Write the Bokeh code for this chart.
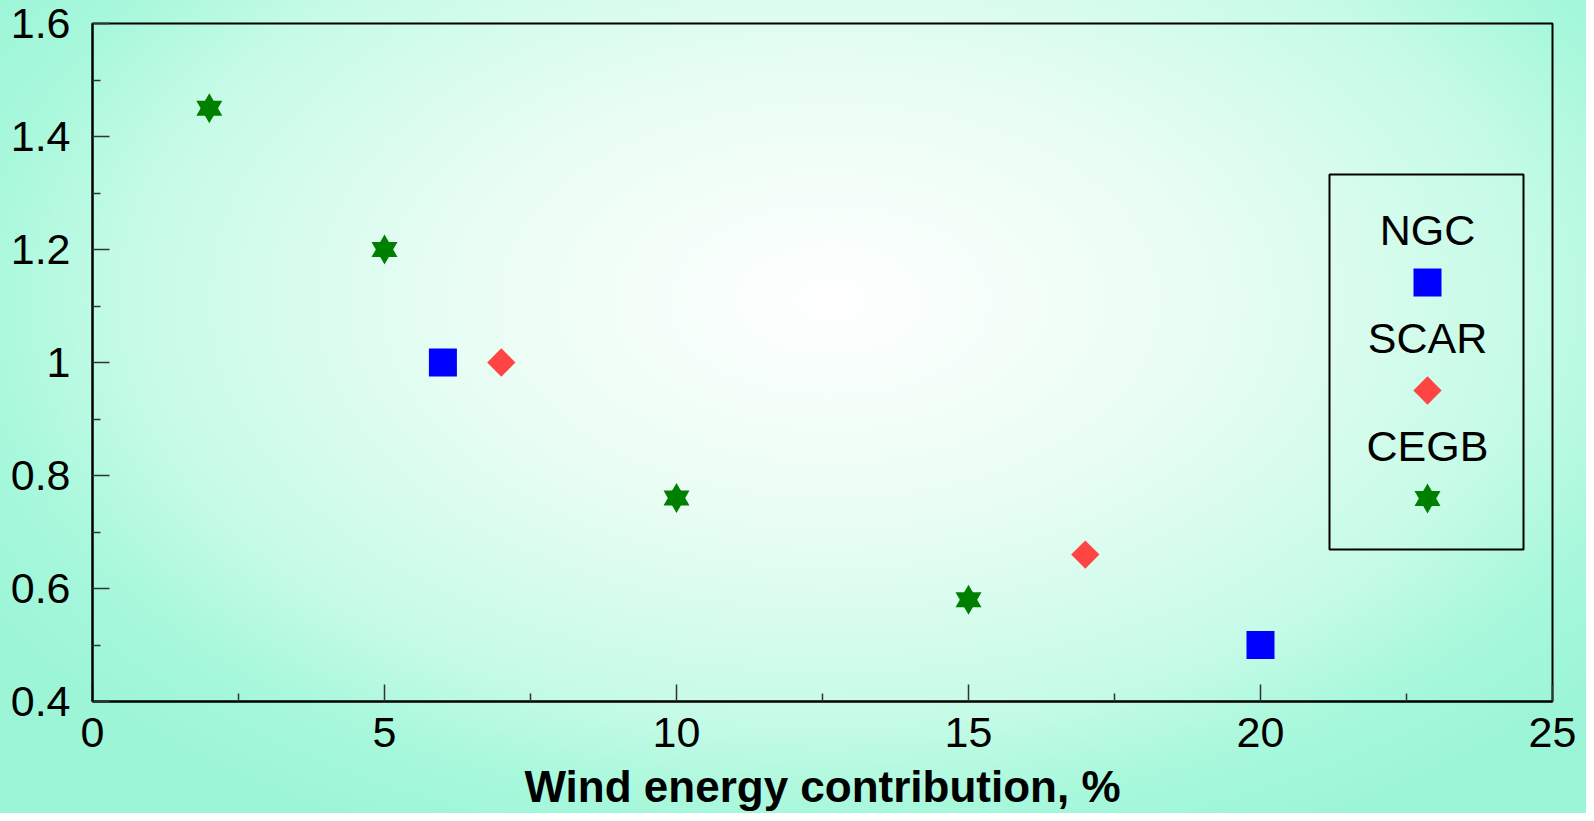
import math
from bokeh.plotting import figure
from bokeh.models import FixedTicker, BoxAnnotation, Label
from bokeh.embed import file_html
from bokeh.resources import INLINE

# ---- data ----
ngc_x = [6, 20]
ngc_y = [1.0, 0.5]
scar_x = [7, 17]
scar_y = [1.0, 0.66]
cegb_x = [2, 5, 10, 15]
cegb_y = [1.45, 1.2, 0.76, 0.58]
series_names = ["NGC", "SCAR", "CEGB"]
x_ticks = [0, 5, 10, 15, 20, 25]
x_tick_labels = ["0", "5", "10", "15", "20", "25"]
y_ticks = [0.4, 0.6, 0.8, 1, 1.2, 1.4, 1.6]
y_tick_labels = ["0.4", "0.6", "0.8", "1", "1.2", "1.4", "1.6"]
x_title = "Wind energy contribution, %"

# ---- layout ----
# figure is pulled over the 8px page margin; figure px = picture px + SH
SH = 8
W, H = 1594, 821
FL, FR, FT, FB = 92 + SH, 1552 + SH, 23 + SH, 701 + SH
X0, X1, Y0, Y1 = 0, 25, 0.4, 1.6
FONT = "Liberation Sans"

def dx(px):
    return X0 + (px + SH - FL) / (FR - FL) * (X1 - X0)

def dy(py):
    return Y0 + (FB - (py + SH)) / (FB - FT) * (Y1 - Y0)

p = figure(width=W, height=H, x_range=(X0, X1), y_range=(Y0, Y1), title=None,
           output_backend="svg", toolbar_location=None,
           min_border_left=FL, min_border_right=W - FR,
           min_border_top=FT, min_border_bottom=H - FB)

p.styles = {
    "margin": "-8px",
    "background": "radial-gradient(ellipse 1000px 600px at 838px 308px, #ffffff 0%, "
                  "#e8fdf3 38%, #c6fbe7 70%, #a8f8dc 85%, #9cf5d6 100%)",
}
p.background_fill_color = None
p.border_fill_color = None
p.grid.visible = False
p.outline_line_color = "black"
p.outline_line_width = 2

mid = lambda t: [(a + b) / 2 for a, b in zip(t, t[1:])]
p.xaxis.ticker = FixedTicker(ticks=x_ticks, minor_ticks=mid(x_ticks))
p.yaxis.ticker = FixedTicker(ticks=y_ticks, minor_ticks=mid(y_ticks))
p.xaxis.major_label_overrides = dict(zip(x_ticks, x_tick_labels))
p.yaxis.major_label_overrides = dict(zip(y_ticks, y_tick_labels))

for ax in (p.xaxis, p.yaxis):
    ax.axis_line_color = "black"
    ax.axis_line_width = 2
    ax.major_tick_in = 17
    ax.major_tick_out = 0
    ax.minor_tick_in = 8
    ax.minor_tick_out = 0
    ax.major_tick_line_color = "#333333"
    ax.minor_tick_line_color = "#333333"
    ax.major_tick_line_width = 1.5
    ax.minor_tick_line_width = 1.5
    ax.major_label_text_font = FONT
    ax.major_label_text_font_size = "43px"
    ax.major_label_text_color = "black"

p.xaxis.major_label_standoff = 16
p.yaxis.major_label_standoff = 22

# x-axis title
p.xaxis.axis_label = x_title
p.xaxis.axis_label_text_font = FONT
p.xaxis.axis_label_text_font_size = "44px"
p.xaxis.axis_label_text_font_style = "bold"
p.xaxis.axis_label_text_color = "black"
p.xaxis.axis_label_standoff = 12

BLUE, RED, GREEN = "#0000FF", "#FF4444", "#008000"

def ngc(x, y):
    p.scatter(x, y, marker="square", size=28, fill_color=BLUE, line_color=None)

def scar(x, y):
    p.scatter(x, y, marker="square", size=20, angle=math.pi / 4,
              fill_color=RED, line_color=None)

def cegb(x, y):
    p.scatter(x, y, marker="triangle", size=26, fill_color=GREEN, line_color=None)
    p.scatter(x, y, marker="inverted_triangle", size=26, fill_color=GREEN, line_color=None)

ngc(ngc_x, ngc_y)
scar(scar_x, scar_y)
cegb(cegb_x, cegb_y)

# ---- legend (labels above markers, in a framed box) ----
p.add_layout(BoxAnnotation(left=dx(1329), right=dx(1523), top=dy(174), bottom=dy(549),
                           fill_color=None, fill_alpha=0, line_color="black",
                           line_alpha=1.0, line_width=2))
LX = dx(1427)
label_py = [229, 337, 445]
marker_py = [282, 390, 498]
for name, lp in zip(series_names, label_py):
    p.add_layout(Label(x=LX, y=dy(lp), text=name, text_align="center",
                       text_baseline="middle", text_font=FONT,
                       text_font_size="43px", text_color="black"))
ngc([LX], [dy(marker_py[0])])
scar([LX], [dy(marker_py[1])])
cegb([LX], [dy(marker_py[2])])

open("out.html", "w").write(file_html(p, INLINE))
